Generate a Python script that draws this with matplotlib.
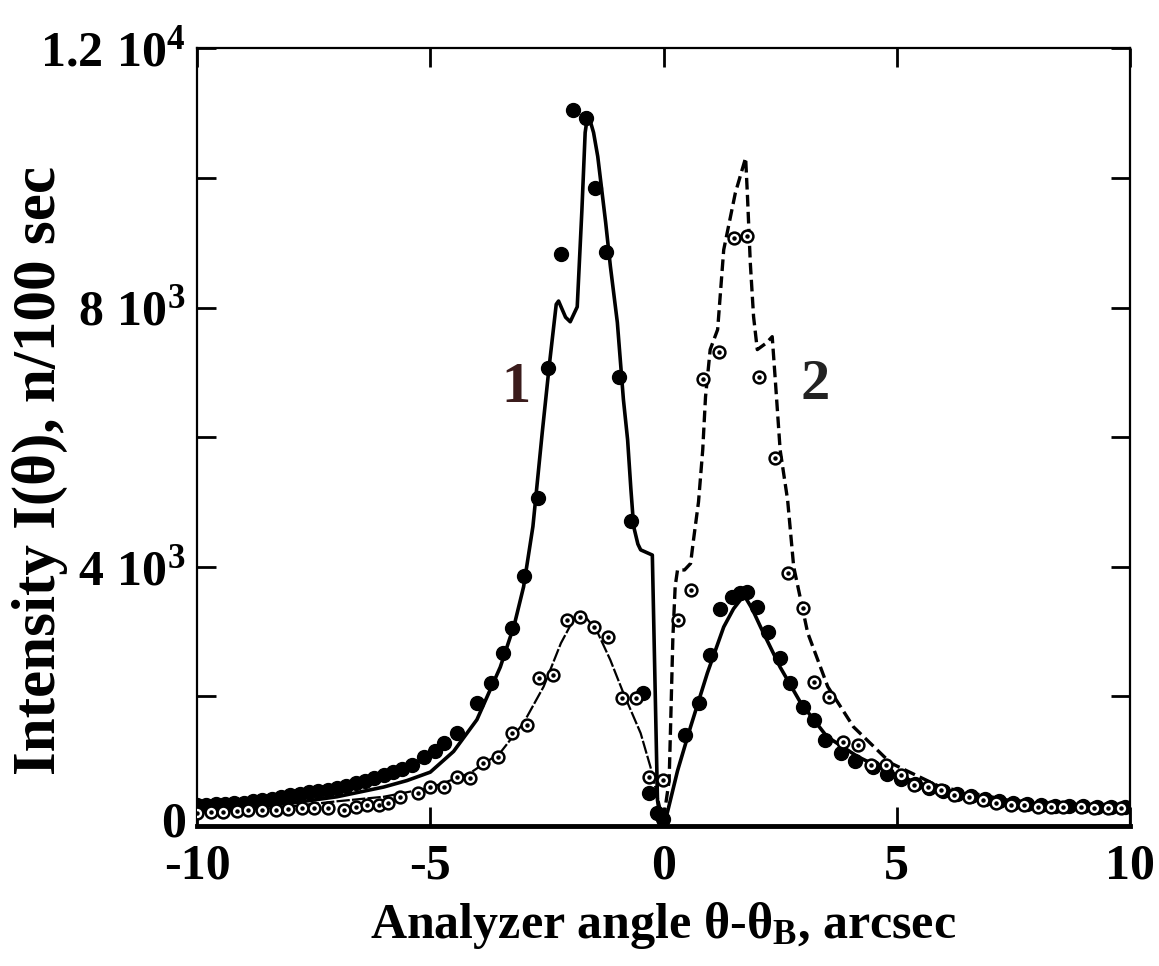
import matplotlib
matplotlib.use("Agg")
import matplotlib.pyplot as plt
import matplotlib.transforms as mtransforms
from matplotlib.ticker import FixedLocator, FixedFormatter

plt.rcParams['font.family'] = ['Liberation Serif', 'DejaVu Serif']
plt.rcParams['font.weight'] = 'bold'
plt.rcParams['mathtext.fontset'] = 'custom'
plt.rcParams['mathtext.rm'] = 'Liberation Serif:bold'
plt.rcParams['mathtext.it'] = 'Liberation Serif:bold'
plt.rcParams['mathtext.bf'] = 'Liberation Serif:bold'

# fitted curve 1 (solid), x < 0 part
fit1_left_x = [-10, -9, -8, -7, -6, -5.5, -5, -4.5, -4, -3.5, -3.2, -3, -2.8, -2.6, -2.45,
               -2.3, -2.25, -2.1, -2.0, -1.85, -1.75, -1.68, -1.62, -1.5, -1.41, -1.24,
               -1.14, -0.99, -0.86, -0.77, -0.7, -0.64, -0.55, -0.49, -0.24, -0.13, -0.05]
fit1_left_y = [230, 280, 350, 450, 600, 700, 830, 1150, 1640, 2450, 3100, 3690, 4620, 6070, 7100,
               8050, 8100, 7850, 7780, 8010, 9500, 10700, 11000, 10700, 10330, 9310,
               8640, 7770, 6580, 5960, 5200, 4620, 4350, 4260, 4180, 400, 0]
# fitted curve 1 (solid), x > 0 part
fit1_right_x = [-0.05, 0.08, 0.3, 0.58, 0.94, 1.29, 1.5, 1.65, 1.76, 1.9, 2.08, 2.5, 2.94, 3.5,
                4.16, 4.87, 5.5, 6.0, 7.0, 8.0, 9.0, 10.0]
fit1_right_y = [0, 200, 850, 1530, 2360, 3070, 3350, 3490, 3520, 3350, 3070, 2450, 1900, 1380,
                1070, 820, 650, 550, 420, 330, 280, 250]

# fitted curve 2, x < 0 part (thin)
fit2_left_x = [-10, -9, -8, -7, -6, -5, -4.5, -4.14, -3.5, -3, -2.57, -2.2, -1.85, -1.75,
               -1.41, -1.14, -0.86, -0.49, -0.28, -0.06, 0.0]
fit2_left_y = [200, 240, 300, 380, 450, 590, 720, 820, 1130, 1590, 2150, 2820, 3290, 3300,
               2980, 2560, 2050, 1430, 910, 250, 100]
# fitted curve 2, x > 0 part (dashed)
fit2_right_x = [0.0, 0.12, 0.15, 0.2, 0.25, 0.3, 0.45, 0.58, 0.64, 0.75, 0.84, 0.9, 1.0, 1.16,
                1.29, 1.54, 1.76, 1.8, 1.86, 1.93, 2.01, 2.2, 2.33, 2.4, 2.5, 2.66, 2.79, 3.09,
                3.52, 4.07, 4.87, 5.94, 7.37, 8.5, 9.86, 10.0]
fit2_right_y = [100, 700, 1500, 2900, 3700, 3950, 3950, 4050, 4400, 5000, 5800, 6620, 7350, 7660,
                8890, 9770, 10310, 9710, 8690, 7860, 7350, 7450, 7550, 6840, 5800, 5030, 4000, 2980,
                2150, 1530, 970, 600, 400, 320, 250, 250]

# measured points, sample 1 (filled)
meas1_x = [-10, -9.8, -9.6, -9.4, -9.2, -9.0, -8.8, -8.6, -8.4, -8.2, -8.0, -7.8, -7.6, -7.4,
           -7.2, -7.0, -6.8, -6.6, -6.4, -6.2, -6.0, -5.8, -5.6, -5.4, -5.14, -4.9, -4.7,
           -4.42, -4.0, -3.7, -3.45, -3.24, -3.0, -2.7, -2.47, -2.2, -1.93, -1.67, -1.46,
           -1.24, -0.96, -0.7, -0.43, -0.32, -0.15, -0.02,
           0.47, 0.75, 1.0, 1.22, 1.47, 1.65, 1.8, 2.0, 2.25, 2.5, 2.72, 2.98, 3.22, 3.47,
           3.8, 4.1, 4.5, 4.8, 5.1, 5.4, 5.7, 6.0, 6.3, 6.6, 6.9, 7.2, 7.5, 7.8, 8.1, 8.4,
           8.7, 9.0, 9.3, 9.6, 9.9]
meas1_y = [320, 330, 340, 340, 350, 360, 380, 400, 420, 440, 470, 500, 520, 540,
           560, 590, 620, 660, 700, 740, 790, 830, 880, 940, 1070, 1150, 1280,
           1440, 1900, 2210, 2670, 3060, 3850, 5060, 7070, 8820, 11050, 10930, 9850,
           8850, 6930, 4700, 2050, 510, 200, 100,
           1400, 1900, 2640, 3340, 3540, 3600, 3610, 3380, 3000, 2590, 2210, 1840, 1640, 1330,
           1130, 1000, 910, 800, 720, 650, 590, 540, 500, 460, 420, 390, 360, 340, 320, 310,
           300, 300, 290, 290, 290]

# measured points, sample 2 (open)
meas2_x = [-10, -9.7, -9.45, -9.15, -8.9, -8.6, -8.3, -8.05, -7.75, -7.5, -7.2, -6.86, -6.6,
           -6.35, -6.1, -5.9, -5.64, -5.27, -5.0, -4.7, -4.42, -4.14, -3.86, -3.54, -3.24,
           -2.92, -2.68, -2.36, -2.06, -1.78, -1.5, -1.2, -0.88, -0.6, -0.32, -0.02,
           0.3, 0.58, 0.84, 1.18, 1.5, 1.8, 2.04, 2.4, 2.66, 2.98, 3.22, 3.54, 3.84, 4.16,
           4.44, 4.76, 5.08, 5.36, 5.66, 5.94, 6.22, 6.54, 6.84, 7.12, 7.44, 7.72, 8.02,
           8.3, 8.57, 8.94, 9.22, 9.52, 9.8]
meas2_y = [200, 210, 220, 230, 240, 250, 250, 260, 270, 270, 280, 250, 290,
           320, 330, 350, 450, 510, 600, 600, 760, 740, 970, 1070, 1440,
           1560, 2280, 2330, 3180, 3230, 3070, 2920, 1980, 1980, 760, 710,
           3180, 3640, 6890, 7320, 9080, 9100, 6930, 5680, 3900, 3370, 2220, 1990, 1300, 1250,
           940, 940, 790, 630, 600, 560, 480, 450, 400, 355, 320, 320, 290,
           290, 290, 290, 280, 280, 280]

yticks = [0, 2000, 4000, 6000, 8000, 10000, 12000]
ytick_labels = ['0', '', r'$4\ 10^3$', '', r'$8\ 10^3$', '', r'$1.2\ 10^4$']
xticks = [-10, -5, 0, 5, 10]
xtick_labels = ['-10', '-5', '0', '5', '10']

fig = plt.figure(figsize=(11.59, 9.66), dpi=100)
ax = fig.add_axes([0.170, 0.145, 0.805, 0.805])

# curves
ax.plot(fit1_left_x, fit1_left_y, color='black', lw=2.6, zorder=2)
ax.plot(fit1_right_x, fit1_right_y, color='black', lw=2.6, zorder=2)
ax.plot(fit2_left_x, fit2_left_y, color='black', lw=1.6, ls=(0, (6, 1)), zorder=2)
ax.plot(fit2_right_x, fit2_right_y, color='black', lw=2.4, ls=(0, (3.5, 1.6)), zorder=2)

# points
ax.plot(meas1_x, meas1_y, 'o', color='black', ms=10, zorder=3)
ax.plot(meas2_x, meas2_y, 'o', mfc='white', mec='black', mew=1.8, ms=8.5, zorder=4)
ax.plot(meas2_x, meas2_y, 'o', color='black', ms=2.2, zorder=5)

ax.text(-3.17, 6760, '1', fontsize=42, fontweight='bold', color='#3b1c1c',
        ha='center', va='center')
ax.text(3.26, 6800, '2', fontsize=42, fontweight='bold', color='#222222',
        ha='center', va='center')

ax.set_xlim(-10, 10)
ax.set_ylim(0, 12000)
ax.xaxis.set_major_locator(FixedLocator(xticks))
ax.xaxis.set_major_formatter(FixedFormatter(xtick_labels))
ax.yaxis.set_major_locator(FixedLocator(yticks))
ax.yaxis.set_major_formatter(FixedFormatter(ytick_labels))
ax.tick_params(axis='both', direction='in', length=14, width=2, top=True, right=True,
               labelsize=36)
ax.tick_params(axis='x', pad=13)
ax.tick_params(axis='y', pad=8)
for lab in ax.get_xticklabels() + ax.get_yticklabels():
    lab.set_fontweight('bold')

# nudge the "0" on the y axis up a little so it clears "-10"
zero_lab = ax.get_yticklabels()[0]
zero_lab.set_transform(zero_lab.get_transform() +
                       mtransforms.ScaledTranslation(0, 5 / 72, fig.dpi_scale_trans))

for side in ['left', 'right', 'top']:
    ax.spines[side].set_linewidth(1.6)
ax.spines['bottom'].set_linewidth(3.5)

ax.set_xlabel(r'Analyzer angle θ-θ$_\mathrm{B}$, arcsec', fontsize=36, fontweight='bold',
              labelpad=7)
ax.set_ylabel('Intensity I(θ), n/100 sec', fontsize=44, fontweight='bold', va='center')
ax.yaxis.set_label_coords(-0.168, 0.457)

fig.savefig('out.png', dpi=100)
